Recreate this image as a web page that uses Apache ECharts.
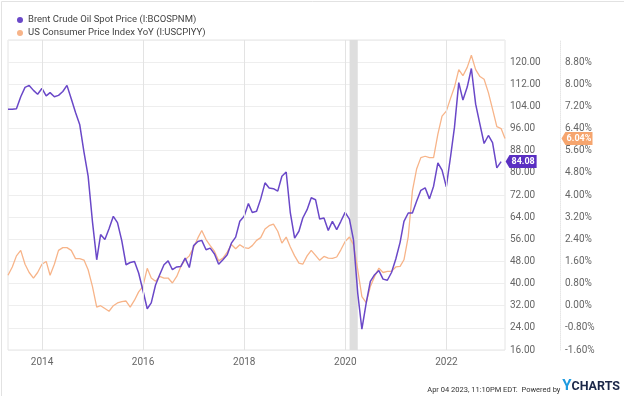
<!DOCTYPE html>
<html>
<head>
<meta charset="utf-8">
<script src="https://cdn.jsdelivr.net/npm/echarts@6/dist/echarts.min.js"></script>
<style>
  html, body { margin: 0; padding: 0; background: #fff; }
  #chart { width: 624px; height: 396px; }
</style>
</head>
<body>
<div id="chart"></div>
<script>
// monthly values, first month is April 2013
const startYear = 2013;
const startMonth = 3; // April (0-based)

const seriesNames = [
  'Brent Crude Oil Spot Price (I:BCOSPNM)',
  'US Consumer Price Index YoY (I:USCPIYY)'
];

// Apr 2013 .. Jan 2023
const oilValues = [
  103.0, 103.0, 103.2, 107.5, 110.9, 111.6, 109.8, 108.4, 110.5,
  107.8, 109.0, 107.5, 108.0, 109.4, 111.6, 106.8, 101.8, 97.5, 87.5, 78.8, 62.5,
  48.6, 57.7, 55.9, 59.8, 64.3, 62.0, 55.5, 46.8, 47.6, 48.0, 43.8, 37.5,
  30.9, 33.0, 39.5, 43.2, 46.8, 48.2, 45.0, 46.0, 46.2, 49.2, 45.8, 53.7,
  55.2, 55.6, 52.2, 52.8, 50.7, 47.0, 48.6, 50.4, 54.6, 56.8, 62.5, 64.3,
  68.9, 65.7, 66.1, 70.6, 76.4, 74.5, 74.3, 73.4, 78.8, 80.3, 65.5, 56.4,
  58.9, 63.7, 66.7, 71.0, 70.3, 63.3, 63.7, 59.2, 62.5, 59.5, 62.5, 65.7,
  63.3, 55.9, 36.5, 23.5, 32.9, 40.8, 43.2, 44.7, 41.6, 41.2, 44.0, 48.9,
  54.9, 62.5, 65.5, 65.5, 69.8, 73.7, 74.6, 70.6, 75.2, 83.6, 81.0, 75.0,
  86.0, 96.5, 112.6, 106.3, 111.0, 117.7, 104.8, 97.5, 90.6, 93.5, 90.9, 81.8,
  84.08
];

// Apr 2013 .. Feb 2023
const cpiValues = [
  1.1, 1.4, 1.8, 2.0, 1.5, 1.2, 1.0, 1.2, 1.5,
  1.6, 1.1, 1.5, 2.0, 2.1, 2.1, 2.0, 1.7, 1.7, 1.65, 1.3, 0.7,
  -0.05, 0.0, -0.1, -0.2, 0.0, 0.1, 0.15, 0.17, -0.05, 0.2, 0.5, 0.7,
  1.35, 1.0, 0.88, 1.06, 1.0, 1.0, 0.82, 1.06, 1.42, 1.66, 1.8, 2.1,
  2.45, 2.72, 2.39, 2.17, 1.96, 1.62, 1.72, 1.94, 2.21, 2.06, 2.2, 2.1,
  2.07, 2.17, 2.36, 2.46, 2.77, 2.89, 2.95, 2.69, 2.26, 2.48, 2.12, 1.8,
  1.54, 1.5, 1.8, 2.0, 1.82, 1.64, 1.78, 1.72, 1.71, 1.76, 2.02, 2.32,
  2.48, 2.2, 1.3, 0.33, 0.11, 0.69, 1.06, 1.36, 1.2, 1.24, 1.24, 1.4,
  1.42, 1.66, 2.5, 4.15, 4.95, 5.35, 5.4, 5.35, 5.35, 6.2, 6.85, 7.03,
  7.5, 7.9, 8.53, 8.31, 8.61, 9.05, 8.53, 8.28, 8.18, 7.7, 7.1, 6.47,
  6.4, 6.04
];

const yearTicks = [2014, 2016, 2018, 2020, 2022];
const recession = ['2020-02-01', '2020-03-31'];

const leftTicks = { min: 16, max: 128, interval: 8 };
const rightTicks = { min: -1.6, max: 9.6, interval: 0.8 };

const purple = '#6a48c8';
const orange = '#f7b489';

// last day of each month, starting at startMonth
const toSeries = (values) =>
  values.map((v, i) => [new Date(startYear, startMonth + i + 1, 0).getTime(), v]);

const oilData = toSeries(oilValues);
const cpiData = toSeries(cpiValues);
const yearTimes = yearTicks.map((y) => new Date(y, 0, 1).getTime());

const tagSymbol = 'path://M0,6 L5,0 L40,0 L40,12 L5,12 Z';

const chart = echarts.init(document.getElementById('chart'), null, { renderer: 'canvas' });

chart.setOption({
  animation: false,
  textStyle: { fontFamily: 'Roboto' },
  legend: {
    orient: 'vertical',
    left: 12,
    top: 10,
    itemGap: 3,
    itemWidth: 6,
    itemHeight: 6,
    icon: 'circle',
    textStyle: { fontSize: 9.5, color: '#444' },
    data: seriesNames
  },
  grid: {
    left: 8,
    right: 119,
    top: 40,
    bottom: 46,
    show: true,
    borderColor: '#e4e4e4',
    borderWidth: 1
  },
  xAxis: {
    type: 'time',
    min: 'dataMin',
    max: 'dataMax',
    axisLine: { show: false },
    axisTick: { show: false, customValues: yearTimes },
    axisLabel: {
      customValues: yearTimes,
      formatter: '{yyyy}',
      fontSize: 10,
      color: '#666',
      margin: 7
    },
    splitLine: { show: false }
  },
  yAxis: [
    {
      type: 'value',
      position: 'right',
      min: leftTicks.min,
      max: leftTicks.max,
      interval: leftTicks.interval,
      axisLine: { show: false },
      axisTick: { show: false },
      axisLabel: {
        fontSize: 10,
        color: '#666',
        margin: 5,
        verticalAlign: 'middle',
        padding: [0, 0, 8, 0],
        showMaxLabel: false,
        formatter: (v) => v.toFixed(2)
      },
      splitLine: { lineStyle: { color: '#eeeeee' } }
    },
    {
      type: 'value',
      position: 'right',
      offset: 55,
      min: rightTicks.min,
      max: rightTicks.max,
      interval: rightTicks.interval,
      axisLine: { show: true, lineStyle: { color: '#e6e6e6', type: 'dotted' } },
      axisTick: { show: false },
      axisLabel: {
        fontSize: 10,
        color: '#666',
        margin: 5,
        verticalAlign: 'middle',
        padding: [0, 0, 8, 0],
        showMaxLabel: false,
        formatter: (v) => v.toFixed(2) + '%'
      },
      splitLine: { show: false }
    }
  ],
  series: [
    {
      name: seriesNames[1],
      type: 'line',
      yAxisIndex: 1,
      data: cpiData,
      showSymbol: false,
      color: orange,
      lineStyle: { width: 1.3, color: orange },
      z: 2,
      // vertical grid lines at the labelled years
      markLine: {
        silent: true,
        symbol: ['none', 'none'],
        animation: false,
        label: { show: false },
        lineStyle: { color: '#e3e3e3', type: 'solid', width: 1, opacity: 1 },
        data: yearTimes.map((t) => [
          { coord: [t, rightTicks.min] },
          { coord: [t, rightTicks.max] }
        ])
      },
      markArea: {
        silent: true,
        itemStyle: { color: '#dedede' },
        data: [[{ xAxis: recession[0] }, { xAxis: recession[1] }]]
      },
      markPoint: {
        symbol: tagSymbol,
        symbolSize: [31, 13],
        symbolOffset: [72, 0],
        itemStyle: { color: '#f6a56e' },
        label: {
          show: true,
          color: '#fff',
          fontSize: 9,
          fontWeight: 'bold',
          offset: [2, 0],
          formatter: (p) => p.value.toFixed(2) + '%'
        },
        data: [{ coord: cpiData[cpiData.length - 1], value: cpiValues[cpiValues.length - 1] }]
      }
    },
    {
      name: seriesNames[0],
      type: 'line',
      yAxisIndex: 0,
      data: oilData,
      showSymbol: false,
      color: purple,
      lineStyle: { width: 1.5, color: purple },
      z: 3,
      markPoint: {
        symbol: tagSymbol,
        symbolSize: [31, 13],
        symbolOffset: [20, 0],
        itemStyle: { color: '#5a2fc2' },
        label: {
          show: true,
          color: '#fff',
          fontSize: 9,
          fontWeight: 'bold',
          offset: [2, 0],
          formatter: (p) => p.value.toFixed(2)
        },
        data: [{ coord: oilData[oilData.length - 1], value: oilValues[oilValues.length - 1] }]
      }
    }
  ],
  graphic: [
    {
      type: 'line',
      shape: { x1: 1.5, y1: 1.5, x2: 624, y2: 1.5 },
      style: { stroke: '#e2e2e2', lineWidth: 1 }
    },
    {
      type: 'line',
      shape: { x1: 1.5, y1: 1.5, x2: 1.5, y2: 396 },
      style: { stroke: '#e2e2e2', lineWidth: 1 }
    },
    {
      type: 'text',
      right: 4,
      top: 379,
      style: {
        text: '{t|Apr 04 2023, 11:10PM EDT.  Powered by }{y|Y}{c|CHARTS}',
        rich: {
          t: { fontSize: 7.5, fill: '#333', fontFamily: 'Roboto', verticalAlign: 'bottom' },
          y: { fontSize: 15, fontWeight: 'bold', fill: '#1e9be0', fontFamily: 'Roboto' },
          c: { fontSize: 12.5, fontWeight: 'bold', fill: '#1b2748', fontFamily: 'Roboto' }
        }
      }
    }
  ]
});
</script>
</body>
</html>
